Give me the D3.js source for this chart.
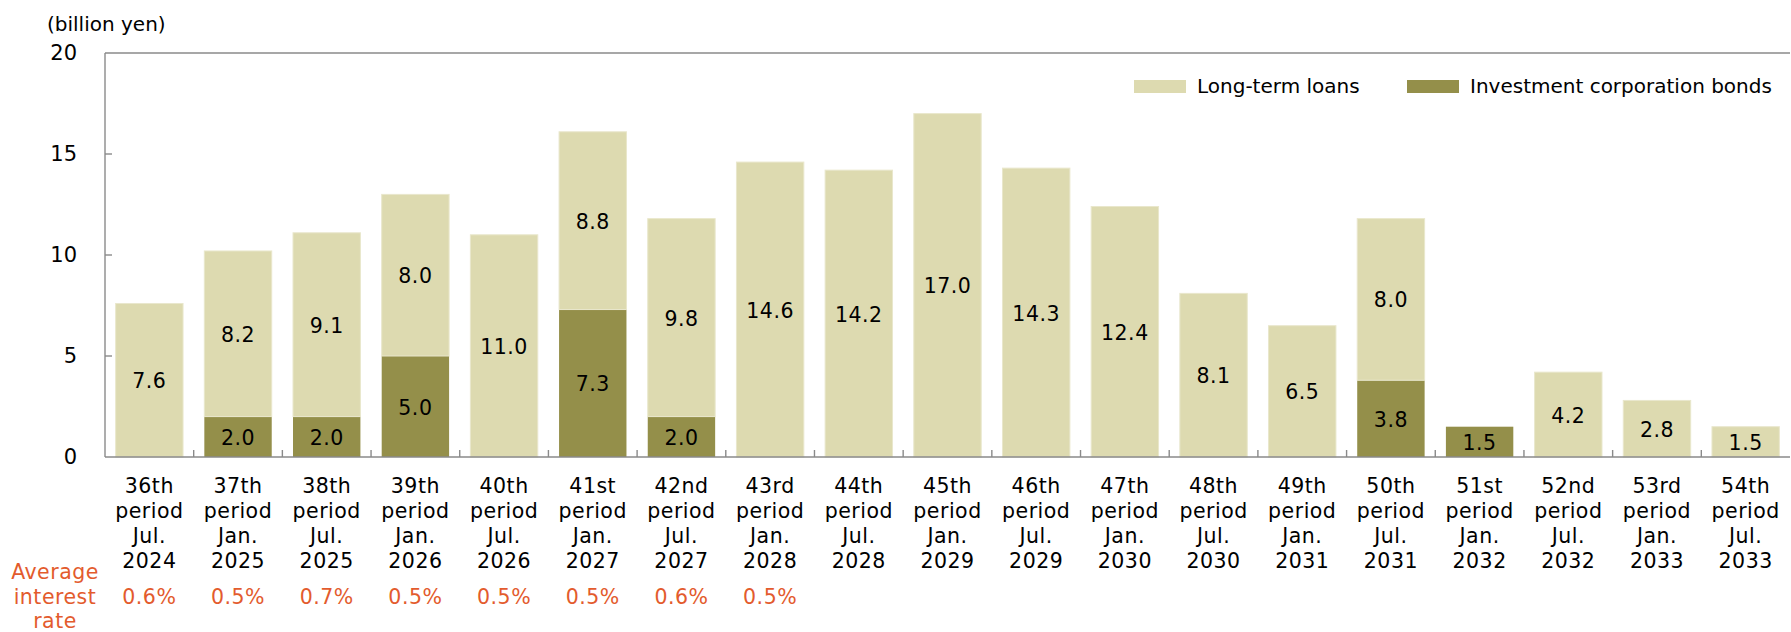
<!DOCTYPE html>
<html><head><meta charset="utf-8">
<script src="https://cdn.jsdelivr.net/npm/d3@7"></script>
<style>html,body{margin:0;padding:0;background:#fff;}svg{display:block;font-family:"DejaVu Sans",Verdana,sans-serif;}</style>
</head><body>
<svg id="c" width="1791" height="632"></svg>
<script>
const periods = ["36th","37th","38th","39th","40th","41st","42nd","43rd","44th","45th","46th","47th","48th","49th","50th","51st","52nd","53rd","54th"];
const months = ["Jul.","Jan.","Jul.","Jan.","Jul.","Jan.","Jul.","Jan.","Jul.","Jan.","Jul.","Jan.","Jul.","Jan.","Jul.","Jan.","Jul.","Jan.","Jul."];
const years = ["2024","2025","2025","2026","2026","2027","2027","2028","2028","2029","2029","2030","2030","2031","2031","2032","2032","2033","2033"];
const bonds = [0,2.0,2.0,5.0,0,7.3,2.0,0,0,0,0,0,0,0,3.8,1.5,0,0,0];
const loans = [7.6,8.2,9.1,8.0,11.0,8.8,9.8,14.6,14.2,17.0,14.3,12.4,8.1,6.5,8.0,0,4.2,2.8,1.5];
const rates = ["0.6%","0.5%","0.7%","0.5%","0.5%","0.5%","0.6%","0.5%"];
const yTicks = [0,5,10,15,20];
const seriesNames = ["Long-term loans","Investment corporation bonds"];

const colLoan = "#DDDAB0", colBond = "#948F4A", axisCol = "#8a8a8a", orange = "#E35B2D";
const svg = d3.select("#c");
const L = 105, R = 1790, T = 53, B = 457;
const x = d3.scaleBand().domain(periods).range([L, R]).paddingInner(0.24).paddingOuter(0.12);
const y = d3.scaleLinear().domain([0, 20]).range([B, T]);
const fs = 20.5, ls = 0.5;

const data = periods.map((p, i) => ({p, bond: bonds[i], loan: loans[i]}));

const g = svg.append("g");
data.forEach(d => {
  if (d.bond > 0) {
    g.append("rect").attr("x", x(d.p)).attr("width", x.bandwidth())
      .attr("y", y(d.bond)).attr("height", y(0) - y(d.bond)).attr("fill", colBond);
  }
  if (d.loan > 0) {
    g.append("rect").attr("x", x(d.p)).attr("width", x.bandwidth())
      .attr("y", y(d.bond + d.loan)).attr("height", y(d.bond) - y(d.bond + d.loan))
      .attr("fill", colLoan).attr("stroke", "#e9e7cc").attr("stroke-width", 1);
  }
});
data.forEach(d => {
  const cx = x(d.p) + x.bandwidth() / 2;
  if (d.bond > 0) {
    svg.append("text").attr("x", cx).attr("y", (y(0) + y(d.bond)) / 2 + 1)
      .attr("text-anchor", "middle").attr("dominant-baseline", "central").attr("letter-spacing", ls)
      .attr("font-size", fs).attr("fill", "#000").text(d.bond.toFixed(1));
  }
  if (d.loan > 0) {
    svg.append("text").attr("x", cx).attr("y", (y(d.bond) + y(d.bond + d.loan)) / 2 + 1)
      .attr("text-anchor", "middle").attr("dominant-baseline", "central").attr("letter-spacing", ls)
      .attr("font-size", fs).attr("fill", "#000").text(d.loan.toFixed(1));
  }
});

const ax = svg.append("g").attr("stroke", axisCol).attr("stroke-width", 1.4).attr("fill", "none");
ax.append("line").attr("x1", L).attr("x2", L).attr("y1", T).attr("y2", B);
ax.append("line").attr("x1", L).attr("x2", R).attr("y1", T).attr("y2", T);
ax.append("line").attr("x1", L).attr("x2", R).attr("y1", B).attr("y2", B);
yTicks.slice(1, -1).forEach(t => {
  ax.append("line").attr("x1", L).attr("x2", L + 7).attr("y1", y(t)).attr("y2", y(t));
});
const step = x.step();
for (let k = 1; k < periods.length; k++) {
  const bx = L + k * step;
  ax.append("line").attr("x1", bx).attr("x2", bx).attr("y1", B).attr("y2", B - 7);
}
yTicks.forEach(t => {
  svg.append("text").attr("x", 77).attr("y", y(t)).attr("text-anchor", "end")
    .attr("dominant-baseline", "central").attr("font-size", 21).attr("fill", "#000").text(t);
});
svg.append("text").attr("x", 47).attr("y", 24).attr("dominant-baseline", "central")
  .attr("font-size", 20).attr("fill", "#000").text("(billion yen)");

data.forEach((d, i) => {
  const cx = x(d.p) + x.bandwidth() / 2;
  [periods[i], "period", months[i], years[i]].forEach((s, j) => {
    svg.append("text").attr("x", cx).attr("y", 486 + j * 25)
      .attr("text-anchor", "middle").attr("dominant-baseline", "central").attr("letter-spacing", ls)
      .attr("font-size", fs).attr("fill", "#000").text(s);
  });
});

["Average", "interest", "rate"].forEach((s, j) => {
  svg.append("text").attr("x", 55).attr("y", 572 + j * 24.5)
    .attr("text-anchor", "middle").attr("dominant-baseline", "central").attr("letter-spacing", ls)
    .attr("font-size", fs).attr("fill", orange).text(s);
});
rates.forEach((r, i) => {
  svg.append("text").attr("x", x(periods[i]) + x.bandwidth() / 2).attr("y", 597)
    .attr("text-anchor", "middle").attr("dominant-baseline", "central").attr("letter-spacing", ls)
    .attr("font-size", fs).attr("fill", orange).text(r);
});

const leg = [{n: seriesNames[0], c: colLoan, x: 1134}, {n: seriesNames[1], c: colBond, x: 1407}];
leg.forEach(l => {
  svg.append("rect").attr("x", l.x).attr("y", 80).attr("width", 52).attr("height", 13).attr("fill", l.c);
  svg.append("text").attr("x", l.x + 63).attr("y", 86).attr("dominant-baseline", "central")
    .attr("font-size", 20).attr("fill", "#000").text(l.n);
});
</script>
</body></html>
